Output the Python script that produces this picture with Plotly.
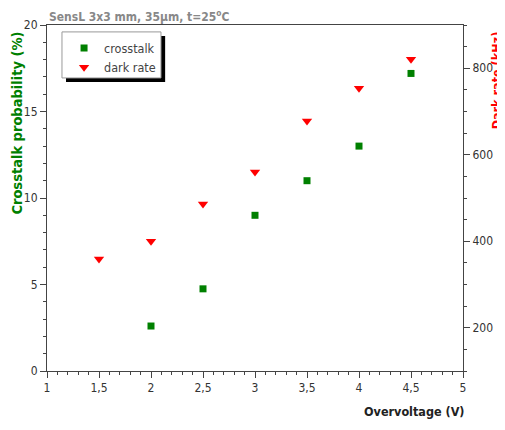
import plotly.graph_objects as go

overvoltage_ct = [2, 2.5, 3, 3.5, 4, 4.5]
crosstalk = [2.6, 4.75, 9.0, 11.0, 13.0, 17.2]
overvoltage_dr = [1.5, 2, 2.5, 3, 3.5, 4, 4.5]
dark_rate = [359, 400, 486, 560, 678, 754, 821]

FONT = "DejaVu Sans Condensed, DejaVu Sans"
AX = "#444444"

fig = go.Figure()
fig.add_trace(go.Scatter(x=overvoltage_ct, y=crosstalk, mode="markers", name="crosstalk",
                         marker=dict(symbol="square", size=7, color="#008000")))
fig.add_trace(go.Scatter(x=overvoltage_dr, y=dark_rate, mode="markers", name="dark rate", yaxis="y2",
                         marker=dict(symbol="triangle-down", size=9, color="#ff0000")))

# page body has an 8px margin, so the figure is sized/offset to compensate
fig.update_layout(
    width=497, height=414,
    margin=dict(l=39, r=42, t=17, b=51),
    paper_bgcolor="white", plot_bgcolor="white",
    font=dict(family=FONT, size=12, color="#333333"),
    showlegend=True,
    legend=dict(x=0.041, y=0.976, xanchor="left", yanchor="top",
                bgcolor="rgba(0,0,0,0)", borderwidth=0,
                font=dict(family=FONT, size=12.5, color="#444444"),
                itemwidth=30),
    xaxis=dict(range=[1, 5], dtick=0.5, tickformat=".1~f", automargin=False,
               showgrid=False, zeroline=False, showline=True, linecolor=AX, mirror=True,
               ticks="outside", ticklen=6, tickcolor=AX,
               minor=dict(dtick=0.1, ticks="outside", ticklen=3, tickcolor=AX)),
    yaxis=dict(range=[0, 20], dtick=5, showgrid=False, zeroline=False, automargin=False,
               showline=True, linecolor=AX, ticks="outside", ticklen=6, tickcolor=AX,
               minor=dict(dtick=1, ticks="outside", ticklen=3, tickcolor=AX)),
    yaxis2=dict(range=[100, 900], dtick=200, overlaying="y", side="right", automargin=False,
                showgrid=False, zeroline=False, showline=True, linecolor=AX,
                ticks="outside", ticklen=6, tickcolor=AX,
                minor=dict(dtick=50, ticks="outside", ticklen=3, tickcolor=AX)),
    separators=",.",
)

fig.add_annotation(text="<b>SensL 3x3 mm, 35μm, t=25<sup>o</sup>C</b>", xref="paper", yref="paper",
                   x=0.0, y=1.0, xanchor="left", yanchor="bottom", yshift=-1, showarrow=False,
                   font=dict(family=FONT, size=12, color="#888888"))
fig.add_annotation(text="<b>Overvoltage (V)</b>", xref="paper", yref="paper",
                   x=1.0, y=0, xanchor="right", yanchor="top", yshift=-31, xshift=4, showarrow=False,
                   font=dict(family=FONT, size=12.5, color="#222222"))
fig.add_annotation(text="<b>Crosstalk probability (%)</b>", xref="paper", yref="paper",
                   x=0, y=0.715, xanchor="center", yanchor="middle", xshift=-30, textangle=-90,
                   showarrow=False, font=dict(family=FONT, size=14.5, color="#008000"))
fig.add_annotation(text="<b>Dark rate (kHz)</b>", xref="paper", yref="paper",
                   x=1, y=0.84, xanchor="center", yanchor="middle", xshift=33, textangle=-90,
                   showarrow=False, font=dict(family=FONT, size=12.5, color="#ff0000"))

# legend box with shadow
fig.add_shape(type="rect", xref="paper", yref="paper", x0=0.0457, x1=0.284, y0=0.835, y1=0.968,
              fillcolor="black", line=dict(width=0), layer="below")
fig.add_shape(type="rect", xref="paper", yref="paper", x0=0.036, x1=0.274, y0=0.847, y1=0.980,
              fillcolor="white", line=dict(width=1, color="#999999"), layer="below")

fig.write_html("out.html")
